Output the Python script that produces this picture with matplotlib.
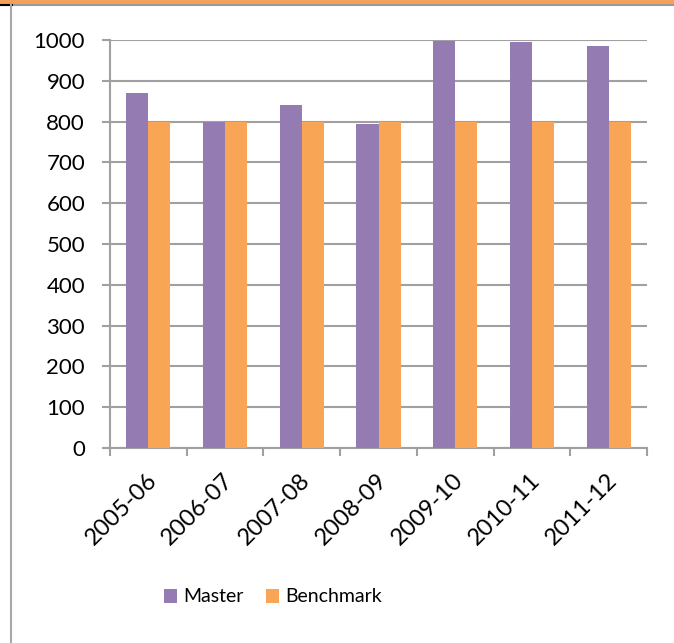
import matplotlib
matplotlib.use("Agg")
import matplotlib.pyplot as plt
import matplotlib.transforms as mtransforms
from matplotlib.patches import Rectangle
from matplotlib.lines import Line2D
import numpy as np

# chart data
seasons = ["2005-06", "2006-07", "2007-08", "2008-09", "2009-10", "2010-11", "2011-12"]
master = [870, 800, 840, 794, 998, 994, 985]
benchmark = [800, 800, 800, 800, 800, 800, 800]

PURPLE = "#947CB3"
ORANGE = "#F8A656"
GRID = "#A0A0A0"

plt.rcParams["font.family"] = ["Lato", "DejaVu Sans"]

fig = plt.figure(figsize=(6.74, 6.43), dpi=100)
ax = fig.add_axes([110 / 674, 195 / 643, 537 / 674, 408 / 643])

x = np.arange(len(seasons))
w = 0.287
ax.bar(x - w / 2, master, width=w, color=PURPLE, label="Master", zorder=3)
ax.bar(x + w / 2, benchmark, width=w, color=ORANGE, label="Benchmark", zorder=3)

ax.set_xlim(-0.5, len(seasons) - 0.5)
ax.set_ylim(0, 1000)
ax.set_yticks(np.arange(0, 1001, 100))
ax.yaxis.grid(True, color=GRID, linewidth=1.5, zorder=0)
ax.set_axisbelow(True)

for side in ("top", "right"):
    ax.spines[side].set_visible(False)
for side in ("left", "bottom"):
    ax.spines[side].set_color(GRID)
    ax.spines[side].set_linewidth(1.5)

ax.tick_params(axis="y", length=6, width=1.5, color=GRID, labelsize=16, pad=12)
# ticks sit between categories, labels at category centres
ax.set_xticks(np.arange(-0.5, len(seasons), 1.0))
ax.set_xticklabels([])
ax.set_xticks(x, minor=True)
ax.set_xticklabels(seasons, minor=True)
ax.tick_params(axis="x", which="major", length=6, width=1.5, color=GRID)
ax.tick_params(axis="x", which="minor", length=0, labelsize=17, pad=21)
offset = mtransforms.ScaledTranslation(5 / 100, 0, fig.dpi_scale_trans)
for lbl in ax.get_xticklabels(minor=True):
    lbl.set_rotation(45)
    lbl.set_rotation_mode("anchor")
    lbl.set_ha("right")
    lbl.set_va("center")
    lbl.set_transform(lbl.get_transform() + offset)

fig.legend(loc="center", bbox_to_anchor=(273 / 674, 46 / 643), ncol=2,
           frameon=False, fontsize=14, handlelength=0.65, handleheight=0.75,
           handletextpad=0.3, columnspacing=1.2)

# frame pieces of the surrounding sheet
fig.patches.append(Rectangle((0, 639 / 643), 1, 4 / 643, transform=fig.transFigure,
                             color="#F4A05A", zorder=0))
fig.lines.append(Line2D([0, 1], [638.5 / 643, 638.5 / 643], transform=fig.transFigure,
                        color="#9A9A9A", linewidth=1.5))
fig.lines.append(Line2D([0, 12 / 674], [638.5 / 643, 638.5 / 643], transform=fig.transFigure,
                        color="black", linewidth=1.5))
fig.lines.append(Line2D([11 / 674, 11 / 674], [0, 638 / 643], transform=fig.transFigure,
                        color="#A8A8A8", linewidth=1.5))

fig.savefig("out.png", dpi=100)
